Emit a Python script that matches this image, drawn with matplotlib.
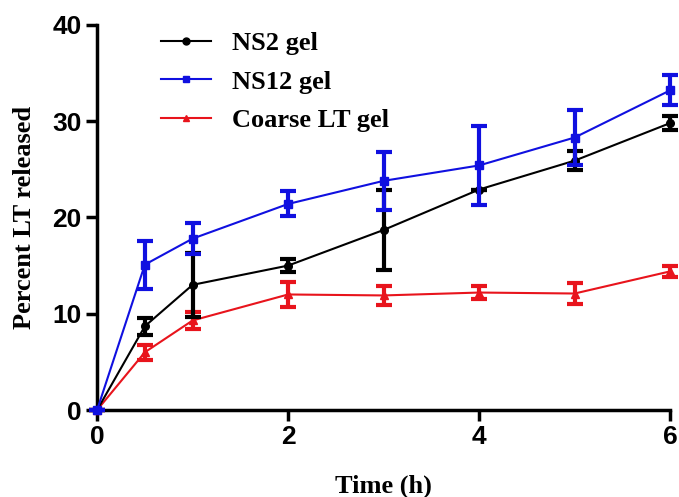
import numpy as np
import matplotlib.pyplot as plt
from matplotlib.lines import Line2D

# release data
time_h = [0, 0.5, 1, 2, 3, 4, 5, 6]
ns2 = [0, 8.7, 13.0, 15.0, 18.7, 22.9, 25.9, 29.8]
ns2_err = [0, 0.9, 3.3, 0.7, 4.2, 0.0, 1.0, 0.75]
ns12 = [0, 15.1, 17.8, 21.4, 23.8, 25.4, 28.3, 33.2]
ns12_err = [0, 2.5, 1.6, 1.3, 3.0, 4.1, 2.9, 1.55]
coarse = [0, 6.0, 9.3, 12.0, 11.9, 12.2, 12.1, 14.4]
coarse_err = [0, 0.8, 0.9, 1.25, 1.0, 0.7, 1.1, 0.6]

serif = 'Liberation Serif'
sans = 'Liberation Sans'
c_ns2, c_ns12, c_coarse = 'black', '#1010e0', '#e8141c'

fig = plt.figure(figsize=(6.79, 4.97), dpi=100)
ax = fig.add_axes([0.143, 0.175, 0.844, 0.775])

ebkw = dict(elinewidth=3, capsize=6, capthick=3, linewidth=1.5, clip_on=False)
ax.errorbar(time_h, coarse, yerr=coarse_err, color=c_coarse, marker='^', markersize=5.5,
            zorder=3, **ebkw)
ax.errorbar(time_h, ns2, yerr=ns2_err, color=c_ns2, marker='o', markersize=5.5,
            zorder=4, **ebkw)
ax.errorbar(time_h, ns12, yerr=ns12_err, color=c_ns12, marker='s', markersize=5.5,
            zorder=5, **ebkw)

ax.set_xlim(0, 6)
ax.set_ylim(0, 40)
ax.set_xticks([0, 2, 4, 6])
ax.set_yticks([0, 10, 20, 30, 40])

for s in ['top', 'right']:
    ax.spines[s].set_visible(False)
for s in ['left', 'bottom']:
    ax.spines[s].set_linewidth(2.5)
ax.tick_params(direction='out', length=8, width=2.5, pad=3)
for lbl in ax.get_xticklabels() + ax.get_yticklabels():
    lbl.set_fontfamily(sans)
    lbl.set_fontweight('bold')
    lbl.set_fontsize(19)

ax.set_xlabel('Time (h)', fontfamily=serif, fontweight='bold', fontsize=19, labelpad=18)
ax.set_ylabel('Percent LT released', fontfamily=serif, fontweight='bold', fontsize=19, labelpad=12)

handles = [Line2D([], [], color=c_ns2, marker='o', markersize=5, linewidth=1.5),
           Line2D([], [], color=c_ns12, marker='s', markersize=5, linewidth=1.5),
           Line2D([], [], color=c_coarse, marker='^', markersize=5, linewidth=1.5)]
labels = ['NS2 gel', 'NS12 gel', 'Coarse LT gel']
ax.legend(handles, labels, loc='upper left', bbox_to_anchor=(0.07, 1.045), frameon=False,
          prop={'family': serif, 'weight': 'bold', 'size': 19},
          handlelength=1.9, handletextpad=0.8, labelspacing=0.58)

fig.savefig('out.png', dpi=100)
